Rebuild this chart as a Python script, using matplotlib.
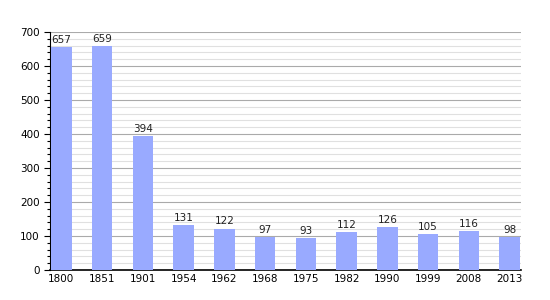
import matplotlib
matplotlib.use("Agg")
import matplotlib.pyplot as plt
from matplotlib.ticker import MultipleLocator

annees = ["1800", "1851", "1901", "1954", "1962", "1968", "1975", "1982", "1990", "1999", "2008", "2013"]
population = [657, 659, 394, 131, 122, 97, 93, 112, 126, 105, 116, 98]

fig = plt.figure(figsize=(5.5, 3.0), dpi=100)
ax = fig.add_axes([50 / 550, 1 - 270 / 300, 471 / 550, 238 / 300])

x = list(range(len(annees)))
ax.bar(x, population, width=0.5, color="#99aaff", zorder=3)
for xi, v in zip(x, population):
    ax.text(xi, v + 6, str(v), ha="center", va="bottom", fontsize=7.5, color="#222222", zorder=4)

ax.set_xlim(-0.28, len(annees) - 0.72)
ax.set_ylim(0, 700)
ax.set_xticks(x)
ax.set_xticklabels(annees)
ax.yaxis.set_major_locator(MultipleLocator(100))
ax.yaxis.set_minor_locator(MultipleLocator(20))
ax.grid(axis="y", which="major", color="#aaaaaa", lw=0.8, zorder=0)
ax.grid(axis="y", which="minor", color="#e0e0e0", lw=0.8, zorder=0)
ax.tick_params(axis="both", labelsize=7.5, colors="black")
ax.tick_params(axis="x", length=0, pad=3)
ax.tick_params(axis="y", which="major", length=4, width=0.8)
ax.tick_params(axis="y", which="minor", length=2.5, width=0.8)
for s in ["top", "right"]:
    ax.spines[s].set_visible(False)
ax.spines["left"].set_linewidth(0.8)
ax.spines["bottom"].set_linewidth(1.2)

fig.savefig("out.png", dpi=100)
